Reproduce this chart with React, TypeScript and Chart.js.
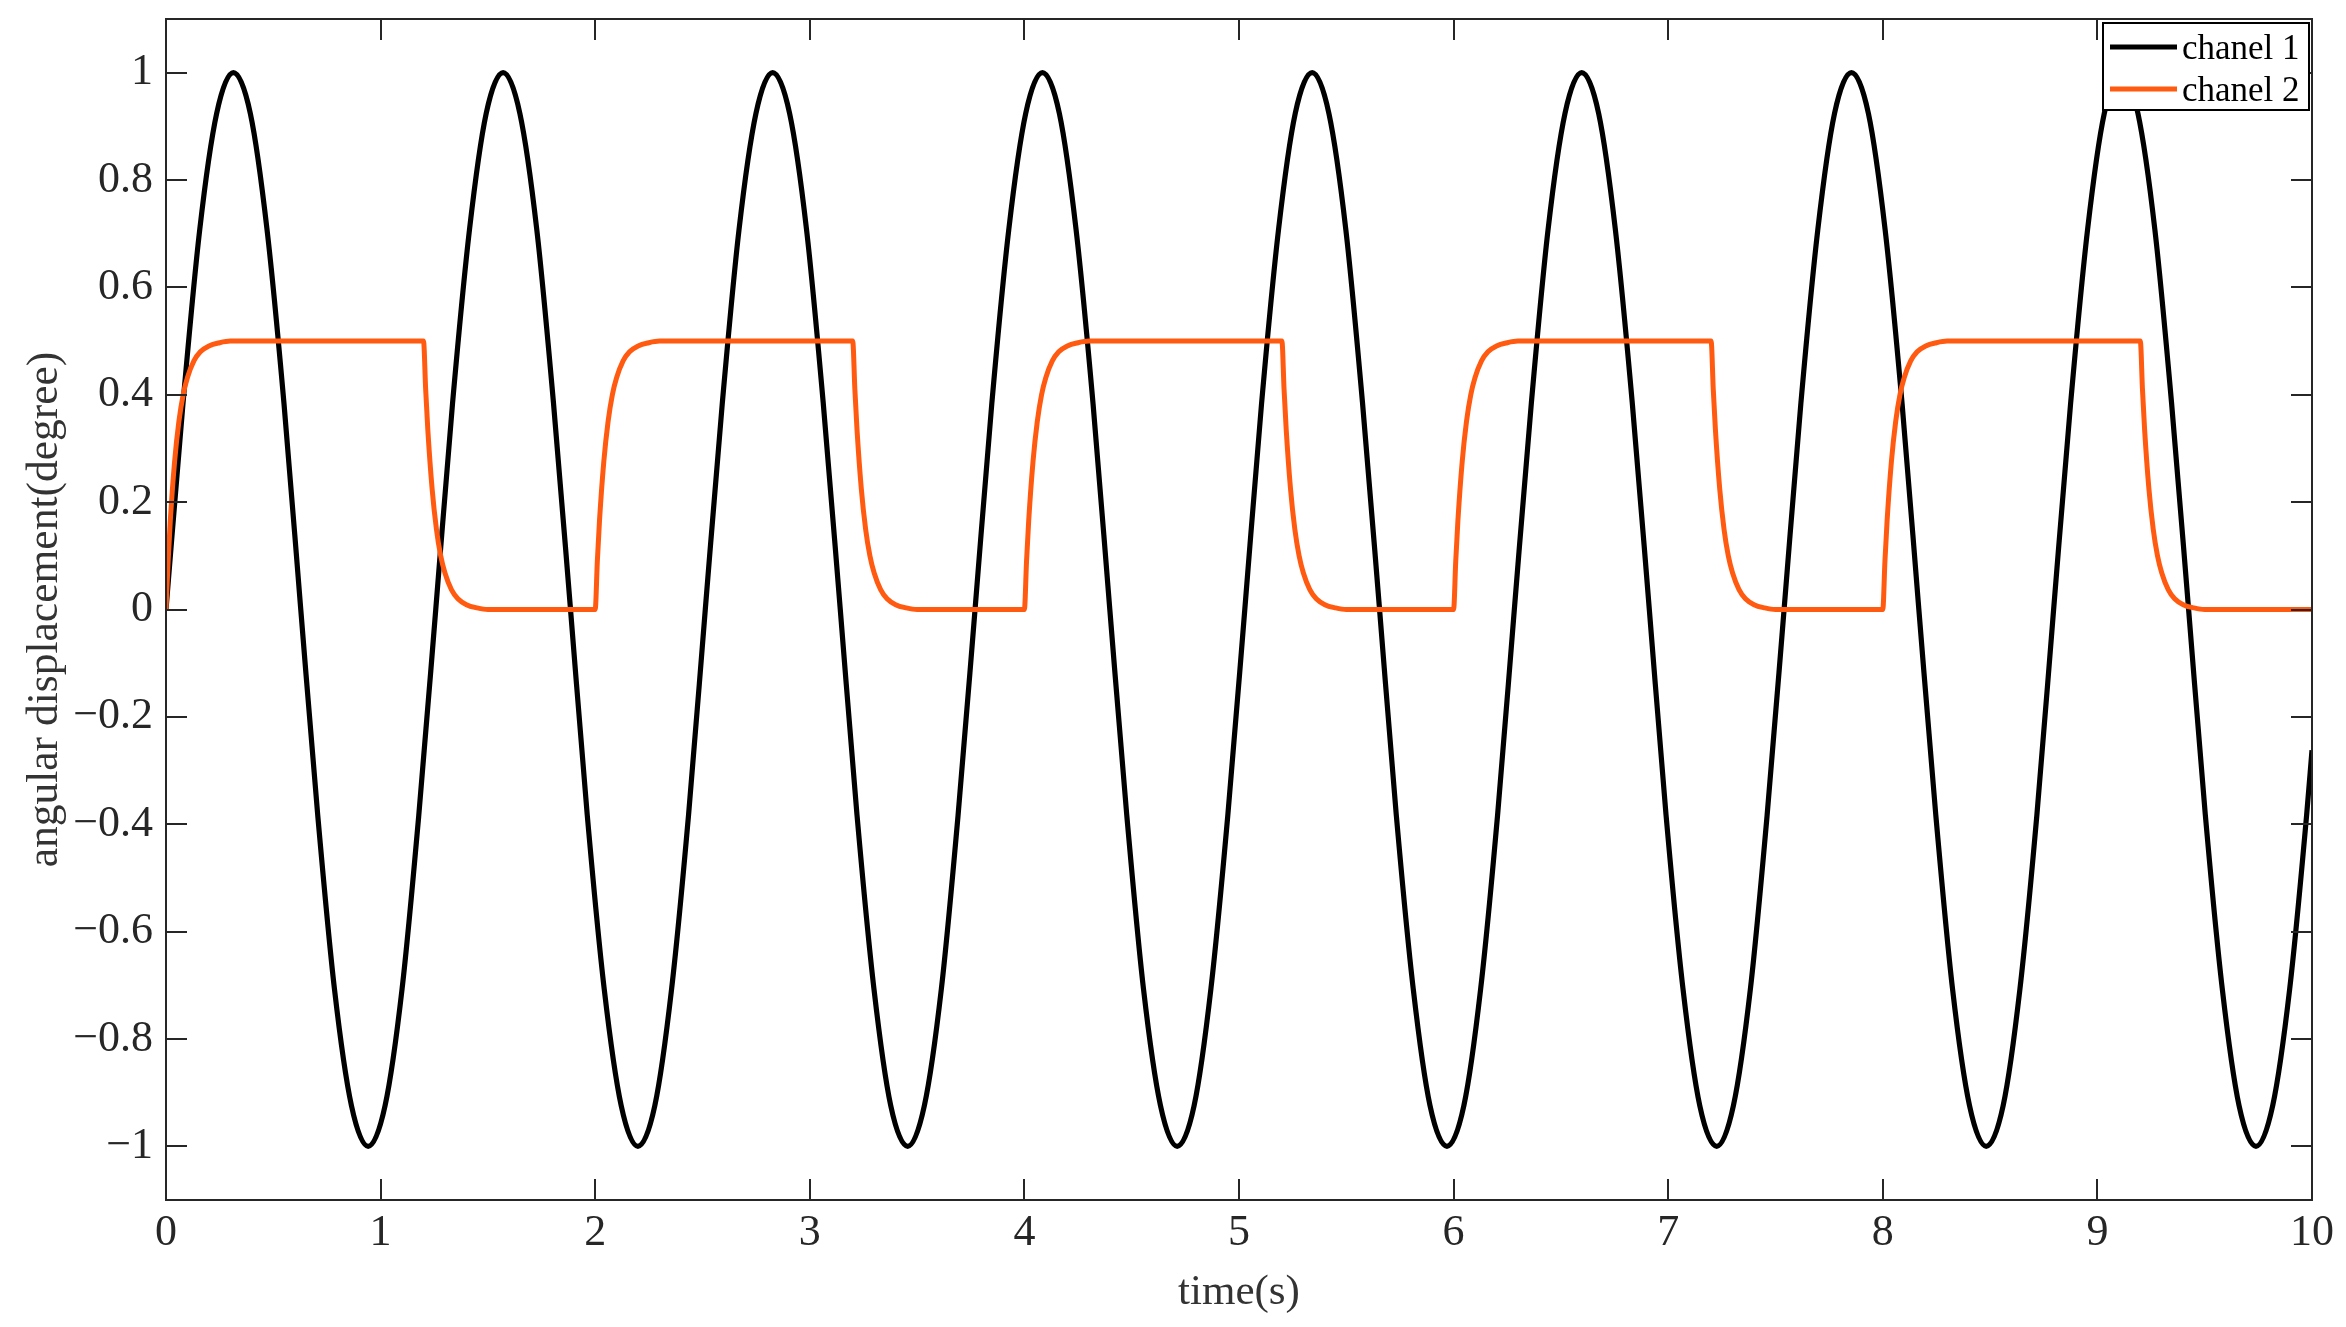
import { useEffect, useRef } from 'react';
import { Chart, registerables } from 'chart.js';

Chart.register(...registerables);

const seriesNames = ['chanel 1', 'chanel 2'];
const seriesColors = ['#000000', '#FF5A10'];

// chanel 1 sample times (s)
const t1 = [
  0.000, 0.079, 0.157, 0.236, 0.314, 0.393, 0.471, 0.550, 0.628, 0.707, 0.785, 0.864, 0.942, 1.021, 1.100, 1.178,
  1.257, 1.335, 1.414, 1.492, 1.571, 1.649, 1.728, 1.806, 1.885, 1.963, 2.042, 2.121, 2.199, 2.278, 2.356, 2.435,
  2.513, 2.592, 2.670, 2.749, 2.827, 2.906, 2.985, 3.063, 3.142, 3.220, 3.299, 3.377, 3.456, 3.534, 3.613, 3.691,
  3.770, 3.848, 3.927, 4.006, 4.084, 4.163, 4.241, 4.320, 4.398, 4.477, 4.555, 4.634, 4.712, 4.791, 4.869, 4.948,
  5.027, 5.105, 5.184, 5.262, 5.341, 5.419, 5.498, 5.576, 5.655, 5.733, 5.812, 5.890, 5.969, 6.048, 6.126, 6.205,
  6.283, 6.362, 6.440, 6.519, 6.597, 6.676, 6.754, 6.833, 6.912, 6.990, 7.069, 7.147, 7.226, 7.304, 7.383, 7.461,
  7.540, 7.618, 7.697, 7.775, 7.854, 7.933, 8.011, 8.090, 8.168, 8.247, 8.325, 8.404, 8.482, 8.561, 8.639, 8.718,
  8.796, 8.875, 8.954, 9.032, 9.111, 9.189, 9.268, 9.346, 9.425, 9.503, 9.582, 9.660, 9.739, 9.817, 9.896, 9.975,
  10.000,
];

// chanel 1 angular displacement (degree)
const y1 = [
  0, 0.383, 0.707, 0.924, 1, 0.924, 0.707, 0.383, 0, -0.383, -0.707, -0.924, -1, -0.924, -0.707, -0.383,
  0, 0.383, 0.707, 0.924, 1, 0.924, 0.707, 0.383, 0, -0.383, -0.707, -0.924, -1, -0.924, -0.707, -0.383,
  0, 0.383, 0.707, 0.924, 1, 0.924, 0.707, 0.383, 0, -0.383, -0.707, -0.924, -1, -0.924, -0.707, -0.383,
  0, 0.383, 0.707, 0.924, 1, 0.924, 0.707, 0.383, 0, -0.383, -0.707, -0.924, -1, -0.924, -0.707, -0.383,
  0, 0.383, 0.707, 0.924, 1, 0.924, 0.707, 0.383, 0, -0.383, -0.707, -0.924, -1, -0.924, -0.707, -0.383,
  0, 0.383, 0.707, 0.924, 1, 0.924, 0.707, 0.383, 0, -0.383, -0.707, -0.924, -1, -0.924, -0.707, -0.383,
  0, 0.383, 0.707, 0.924, 1, 0.924, 0.707, 0.383, 0, -0.383, -0.707, -0.924, -1, -0.924, -0.707, -0.383,
  0, 0.383, 0.707, 0.924, 1, 0.924, 0.707, 0.383, 0, -0.383, -0.707, -0.924, -1, -0.924, -0.707, -0.383,
  -0.262,
];

const c2RiseStarts = [0, 2, 4, 6, 8];
const c2FallStarts = [1.2, 3.2, 5.2, 7.2, 9.2];
const c2Offsets = [0, 0.01, 0.02, 0.04, 0.06, 0.08, 0.1, 0.13, 0.16, 0.2, 0.25, 0.3];
const c2Rise = [0, 0.09, 0.165, 0.275, 0.35, 0.4, 0.432, 0.463, 0.48, 0.491, 0.497, 0.5];
const c2Fall = [0.5, 0.41, 0.335, 0.225, 0.15, 0.1, 0.068, 0.037, 0.02, 0.009, 0.003, 0];
const c2End = { x: 10, y: 0 };

const xTicks = [0, 1, 2, 3, 4, 5, 6, 7, 8, 9, 10];
const xTickLabels = ['0', '1', '2', '3', '4', '5', '6', '7', '8', '9', '10'];
const yTicks = [-1, -0.8, -0.6, -0.4, -0.2, 0, 0.2, 0.4, 0.6, 0.8, 1];
const yTickLabels = ['−1', '−0.8', '−0.6', '−0.4', '−0.2', '0', '0.2', '0.4', '0.6', '0.8', '1'];
const xTitle = 'time(s)';
const yTitle = 'angular displacement(degree)';

const FONT = '"Liberation Serif", "Times New Roman", serif';
const AXIS_COLOR = '#262626';

function buildC1() {
  return t1.map((t, i) => ({ x: t, y: y1[i] }));
}

function buildC2() {
  const pts: { x: number; y: number }[] = [];
  for (let k = 0; k < c2RiseStarts.length; k++) {
    c2Offsets.forEach((o, i) => pts.push({ x: c2RiseStarts[k] + o, y: c2Rise[i] }));
    c2Offsets.forEach((o, i) => pts.push({ x: c2FallStarts[k] + o, y: c2Fall[i] }));
  }
  pts.push(c2End);
  return pts;
}

const framePlugin = {
  id: 'frameAndLegend',
  afterDatasetsDraw(chart: any) {
    const { ctx, chartArea: a, scales } = chart;
    ctx.save();
    ctx.strokeStyle = AXIS_COLOR;
    ctx.lineWidth = 2;
    const L = 21;
    ctx.beginPath();
    for (const v of xTicks) {
      const px = Math.round(scales.x.getPixelForValue(v));
      ctx.moveTo(px, a.bottom);
      ctx.lineTo(px, a.bottom - L);
      ctx.moveTo(px, a.top);
      ctx.lineTo(px, a.top + L);
    }
    for (const v of yTicks) {
      const py = Math.round(scales.y.getPixelForValue(v));
      ctx.moveTo(a.left, py);
      ctx.lineTo(a.left + L, py);
      ctx.moveTo(a.right, py);
      ctx.lineTo(a.right - L, py);
    }
    ctx.stroke();
    ctx.strokeRect(a.left, a.top, a.right - a.left, a.bottom - a.top);

    // legend box
    const w = 206;
    const h = 87;
    const bx = a.right - 3 - w;
    const by = a.top + 4;
    ctx.fillStyle = '#ffffff';
    ctx.fillRect(bx, by, w, h);
    ctx.strokeStyle = '#000000';
    ctx.lineWidth = 2;
    ctx.strokeRect(bx, by, w, h);
    ctx.font = `35px ${FONT}`;
    ctx.textBaseline = 'middle';
    ctx.textAlign = 'left';
    chart.data.datasets.forEach((ds: any, i: number) => {
      const ly = by + 24 + i * 42;
      ctx.strokeStyle = ds.borderColor;
      ctx.lineWidth = 5;
      ctx.beginPath();
      ctx.moveTo(bx + 7, ly);
      ctx.lineTo(bx + 74, ly);
      ctx.stroke();
      ctx.fillStyle = '#000000';
      ctx.fillText(ds.label, bx + 79, ly + 3);
    });
    ctx.restore();
  },
};

export default function App() {
  const ref = useRef<HTMLCanvasElement | null>(null);

  useEffect(() => {
    document.body.style.margin = '0';
    const canvas = ref.current;
    if (!canvas) return;
    const chart = new Chart(canvas, {
      type: 'line',
      data: {
        datasets: [
          {
            label: seriesNames[0],
            data: buildC1(),
            borderColor: seriesColors[0],
            backgroundColor: seriesColors[0],
            borderWidth: 5.2,
            pointRadius: 0,
            cubicInterpolationMode: 'monotone',
            order: 1,
          },
          {
            label: seriesNames[1],
            data: buildC2(),
            borderColor: seriesColors[1],
            backgroundColor: seriesColors[1],
            borderWidth: 5,
            pointRadius: 0,
            cubicInterpolationMode: 'monotone',
            order: 0,
          },
        ],
      },
      options: {
        responsive: false,
        animation: false,
        devicePixelRatio: 1,
        parsing: false,
        normalized: true,
        layout: { padding: { top: 19, right: 34, left: 0, bottom: 0 } },
        plugins: { legend: { display: false }, tooltip: { enabled: false } },
        scales: {
          x: {
            type: 'linear',
            min: 0,
            max: 10,
            grid: { display: false, drawTicks: false },
            border: { display: false },
            afterBuildTicks: (s: any) => {
              s.ticks = xTicks.map((v) => ({ value: v }));
            },
            afterFit: (s: any) => {
              s.height = 127;
              s.paddingLeft = 0;
              s.paddingRight = 0;
            },
            ticks: {
              autoSkip: false,
              maxRotation: 0,
              padding: 7,
              color: AXIS_COLOR,
              font: { family: FONT, size: 44 },
              callback: (_v: any, i: number) => xTickLabels[i],
            },
            title: {
              display: true,
              text: xTitle,
              color: '#333333',
              font: { family: FONT, size: 43, lineHeight: 1.2 },
              padding: { top: 0, bottom: 8 },
            },
          },
          y: {
            type: 'linear',
            min: -1.1,
            max: 1.1,
            grid: { display: false, drawTicks: false },
            border: { display: false },
            afterBuildTicks: (s: any) => {
              s.ticks = yTicks.map((v) => ({ value: v }));
            },
            afterFit: (s: any) => {
              s.width = 166;
              s.paddingTop = 0;
              s.paddingBottom = 0;
            },
            ticks: {
              autoSkip: false,
              padding: 13,
              color: AXIS_COLOR,
              font: { family: FONT, size: 44 },
              callback: (_v: any, i: number) => yTickLabels[i],
            },
            title: {
              display: true,
              text: yTitle,
              color: '#333333',
              font: { family: FONT, size: 43.5, lineHeight: 1.2 },
              padding: { top: 19, bottom: 0 },
            },
          },
        },
      },
      plugins: [framePlugin],
    } as any);
    return () => chart.destroy();
  }, []);

  return (
    <canvas
      ref={ref}
      width={2346}
      height={1327}
      style={{ display: 'block', width: '2346px', height: '1327px' }}
    />
  );
}
